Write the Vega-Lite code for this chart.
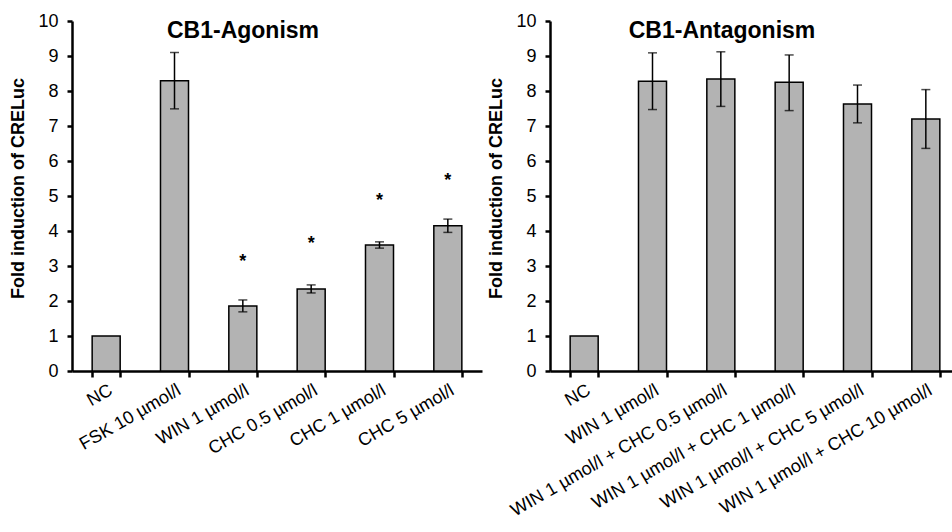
{
  "$schema": "https://vega.github.io/schema/vega-lite/v6.json",
  "background": "white",
  "padding": {"left": 9, "top": 12, "right": 0, "bottom": 0},
  "spacing": 5,
  "datasets": {
    "agon": [
      {"cat": "NC", "mean": 1.0, "lo": null, "hi": null, "star": null},
      {"cat": "FSK 10 µmol/l", "mean": 8.29, "lo": 7.49, "hi": 9.10, "star": null},
      {"cat": "WIN 1 µmol/l", "mean": 1.86, "lo": 1.69, "hi": 2.03, "star": 3.26},
      {"cat": "CHC 0.5 µmol/l", "mean": 2.34, "lo": 2.23, "hi": 2.46, "star": 3.77},
      {"cat": "CHC 1 µmol/l", "mean": 3.6, "lo": 3.51, "hi": 3.69, "star": 5.0},
      {"cat": "CHC 5 µmol/l", "mean": 4.15, "lo": 3.96, "hi": 4.34, "star": 5.57}
    ],
    "antag": [
      {"cat": "NC", "mean": 1.0, "lo": null, "hi": null},
      {"cat": "WIN 1 µmol/l", "mean": 8.28, "lo": 7.47, "hi": 9.09},
      {"cat": "WIN 1 µmol/l + CHC 0.5 µmol/l", "mean": 8.34, "lo": 7.56, "hi": 9.12},
      {"cat": "WIN 1 µmol/l + CHC 1 µmol/l", "mean": 8.25, "lo": 7.44, "hi": 9.03},
      {"cat": "WIN 1 µmol/l + CHC 5 µmol/l", "mean": 7.63, "lo": 7.09, "hi": 8.17},
      {"cat": "WIN 1 µmol/l + CHC 10 µmol/l", "mean": 7.2, "lo": 6.36, "hi": 8.04}
    ]
  },
  "config": {
    "view": {"stroke": null},
    "axis": {
      "domainColor": "black", "domainWidth": 2.5,
      "tickColor": "black", "tickWidth": 2.5,
      "labelColor": "black", "labelFont": "Liberation Sans", "labelFontSize": 18,
      "titleColor": "black", "titleFont": "Liberation Sans", "titleFontSize": 18, "titleFontWeight": "bold",
      "grid": false, "labelLimit": 0
    },
    "axisY": {"values": [0,1,2,3,4,5,6,7,8,9,10], "labelOverlap": false, "tickSize": 5, "labelPadding": 9, "titlePadding": 10, "titleY": 167},
    "title": {"font": "Liberation Sans", "fontSize": 23, "fontWeight": "bold", "color": "black"}
  },
  "hconcat": [
    {
      "width": 410, "height": 350,
      "title": {"text": "CB1-Agonism", "frame": "group", "anchor": "middle", "dx": -34, "offset": -49, "baseline": "alphabetic"},
      "data": {"name": "agon"},
      "encoding": {
        "x": {"field": "cat", "type": "nominal", "sort": null,
              "scale": {"paddingInner": 0.59, "paddingOuter": 0.295},
              "axis": {"title": null, "labelAngle": -30, "tickBand": "extent", "tickSize": 6, "labelPadding": 4}}
      },
      "layer": [
        {"mark": {"type": "bar", "fill": "#b3b3b3", "stroke": "black", "strokeWidth": 1.5},
         "encoding": {"y": {"field": "mean", "type": "quantitative", "scale": {"domain": [0, 10]},
           "axis": {"title": "Fold induction of CRELuc"}}}},
        {"transform": [{"filter": "datum.hi != null"}],
         "mark": {"type": "rule", "color": "black", "strokeWidth": 1.5},
         "encoding": {"y": {"field": "lo", "type": "quantitative"}, "y2": {"field": "hi"}}},
        {"transform": [{"filter": "datum.hi != null"}],
         "mark": {"type": "tick", "color": "black", "size": 9, "thickness": 1.5},
         "encoding": {"y": {"field": "lo", "type": "quantitative"}}},
        {"transform": [{"filter": "datum.hi != null"}],
         "mark": {"type": "tick", "color": "black", "size": 9, "thickness": 1.5},
         "encoding": {"y": {"field": "hi", "type": "quantitative"}}},
        {"transform": [{"filter": "datum.star != null"}],
         "mark": {"type": "text", "text": "*", "font": "Liberation Sans", "fontSize": 18, "fontWeight": "bold", "color": "black", "baseline": "alphabetic", "dy": 10},
         "encoding": {"y": {"field": "star", "type": "quantitative"}}}
      ]
    },
    {
      "width": 410, "height": 350,
      "title": {"text": "CB1-Antagonism", "frame": "group", "anchor": "middle", "dx": -33, "offset": -49, "baseline": "alphabetic"},
      "data": {"name": "antag"},
      "encoding": {
        "x": {"field": "cat", "type": "nominal", "sort": null,
              "scale": {"paddingInner": 0.59, "paddingOuter": 0.295},
              "axis": {"title": null, "labelAngle": -30, "tickBand": "extent", "tickSize": 6, "labelPadding": 4}}
      },
      "layer": [
        {"mark": {"type": "bar", "fill": "#b3b3b3", "stroke": "black", "strokeWidth": 1.5},
         "encoding": {"y": {"field": "mean", "type": "quantitative", "scale": {"domain": [0, 10]},
           "axis": {"title": "Fold induction of CRELuc"}}}},
        {"transform": [{"filter": "datum.hi != null"}],
         "mark": {"type": "rule", "color": "black", "strokeWidth": 1.5},
         "encoding": {"y": {"field": "lo", "type": "quantitative"}, "y2": {"field": "hi"}}},
        {"transform": [{"filter": "datum.hi != null"}],
         "mark": {"type": "tick", "color": "black", "size": 9, "thickness": 1.5},
         "encoding": {"y": {"field": "lo", "type": "quantitative"}}},
        {"transform": [{"filter": "datum.hi != null"}],
         "mark": {"type": "tick", "color": "black", "size": 9, "thickness": 1.5},
         "encoding": {"y": {"field": "hi", "type": "quantitative"}}}
      ]
    }
  ]
}
